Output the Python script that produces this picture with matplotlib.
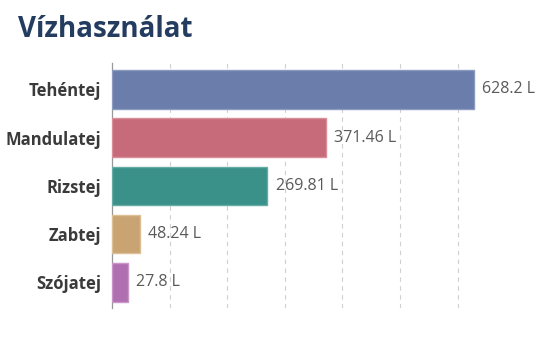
import numpy as np
import matplotlib
matplotlib.use("Agg")
import matplotlib.pyplot as plt

plt.rcParams["font.family"] = ["Open Sans", "DejaVu Sans"]

# Data
categories = ["Tehéntej", "Mandulatej", "Rizstej", "Zabtej", "Szójatej"]
values = [628.2, 371.46, 269.81, 48.24, 27.8]
value_labels = ["628.2 L", "371.46 L", "269.81 L", "48.24 L", "27.8 L"]
colors = ["#6a7dab", "#c76a79", "#3a9189", "#c9a472", "#b06fb1"]
edge_colors = ["#8c9ac0", "#d98f9a", "#66aca5", "#dcbf95", "#c896c8"]

fig = plt.figure(figsize=(5.55, 3.6), dpi=100)
ax = fig.add_axes([0.2018, 0.1444, 0.717, 0.681])

y = np.arange(len(categories))
ax.barh(y, values, height=0.8, color=colors, edgecolor=edge_colors, linewidth=1, zorder=3)

ax.set_ylim(len(categories) - 0.47, -0.55)
ax.set_xlim(0, 691)

ax.set_xticks(np.arange(100, 700, 100))
ax.xaxis.grid(True, linestyle=(0, (4, 4)), color="#d0d0d0", linewidth=0.8, zorder=0)
ax.tick_params(axis="x", length=0, labelbottom=False)
ax.tick_params(axis="y", length=0, pad=8)
ax.set_yticks(y)
ax.set_yticklabels(categories, fontsize=12, fontweight="bold", color="#3a3a3a")

for s in ["top", "right", "bottom"]:
    ax.spines[s].set_visible(False)
ax.spines["left"].set_color("#999999")
ax.spines["left"].set_linewidth(0.9)

for yi, v, lab in zip(y, values, value_labels):
    ax.annotate(lab, xy=(v, yi), xytext=(6, 0), textcoords="offset points",
                va="center", ha="left", fontsize=11.5, color="#5a5a5a")

fig.text(0.032, 0.918, "Vízhasználat", fontsize=20, fontweight="bold",
         color="#233c60", va="center", ha="left")

fig.savefig("out.png", dpi=100)
